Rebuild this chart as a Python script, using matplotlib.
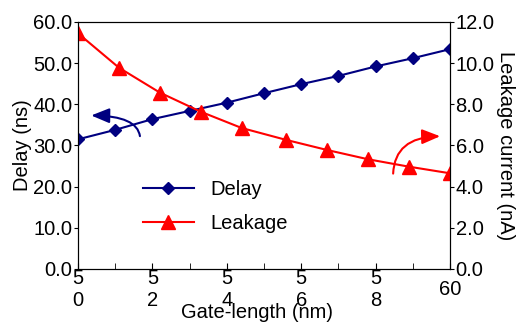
import matplotlib
matplotlib.use("Agg")
import matplotlib.pyplot as plt
from matplotlib.patches import FancyArrowPatch

plt.rcParams['font.family'] = ['Liberation Sans', 'DejaVu Sans']

# data
gate_delay = [50, 51, 52, 53, 54, 55, 56, 57, 58, 59, 60]
delay = [31.5, 33.8, 36.4, 38.4, 40.4, 42.7, 44.9, 46.9, 49.2, 51.2, 53.4]
gate_leak = [50.0, 51.1, 52.2, 53.3, 54.4, 55.6, 56.7, 57.8, 58.9, 60.0]
leakage = [11.45, 9.78, 8.57, 7.64, 6.85, 6.27, 5.78, 5.33, 4.97, 4.65]

xticks = [50, 52, 54, 56, 58, 60]
xticklabels = ["5\n0", "5\n2", "5\n4", "5\n6", "5\n8", "60"]

blue = "#000080"
red = "#ff0000"
fs = 14.5

fig = plt.figure(figsize=(5.18, 3.22), dpi=100)
ax = fig.add_axes([0.1506, 0.1646, 0.7181, 0.7671])
ax2 = ax.twinx()

l1, = ax.plot(gate_delay, delay, color=blue, marker='D', markersize=6.5, lw=1.5, label='Delay')
l2, = ax2.plot(gate_leak, leakage, color=red, marker='^', markersize=9.5, lw=1.5, label='Leakage')

ax.set_xlim(50, 60)
ax.set_ylim(0, 60)
ax2.set_ylim(0, 12)
ax.set_yticks(range(0, 61, 10))
ax.set_yticklabels([f"{v:.1f}" for v in range(0, 61, 10)], fontsize=fs)
ax2.set_yticks(range(0, 13, 2))
ax2.set_yticklabels([f"{v:.1f}" for v in range(0, 13, 2)], fontsize=fs)

ax.set_xticks(xticks)
ax.set_xticks(range(51, 60, 2), minor=True)
ax.set_xticklabels(xticklabels, fontsize=fs, va='center', linespacing=1.2)
ax.tick_params(axis='x', which='both', direction='in', length=4, pad=15)
ax.tick_params(axis='y', direction='out', length=3, pad=1)
ax2.tick_params(axis='y', direction='out', length=3, pad=1)

ax.set_ylabel("Delay (ns)", fontsize=fs, labelpad=1)
ax2.set_ylabel("Leakage current (nA)", fontsize=fs, rotation=270, labelpad=15)
fig.text(0.496, 0.028, "Gate-length (nm)", fontsize=fs, ha='center', va='center')

ax.legend(handles=[l1, l2], loc='upper left', bbox_to_anchor=(0.125, 0.435),
          frameon=False, fontsize=fs, handlelength=2.55, handletextpad=0.8,
          labelspacing=0.75)

# curved arrows pointing to each axis
head = "-|>,head_length=1.1,head_width=0.45"
ax.add_patch(FancyArrowPatch((51.67, 31.6), (50.28, 37.3), connectionstyle="angle3,angleA=90,angleB=0",
                             arrowstyle=head, mutation_scale=10, color=blue, lw=1.5))
ax2.add_patch(FancyArrowPatch((58.47, 4.5), (59.81, 6.45), connectionstyle="angle3,angleA=90,angleB=0",
                              arrowstyle=head, mutation_scale=10, color=red, lw=1.5))

fig.savefig("out.png", dpi=100)
